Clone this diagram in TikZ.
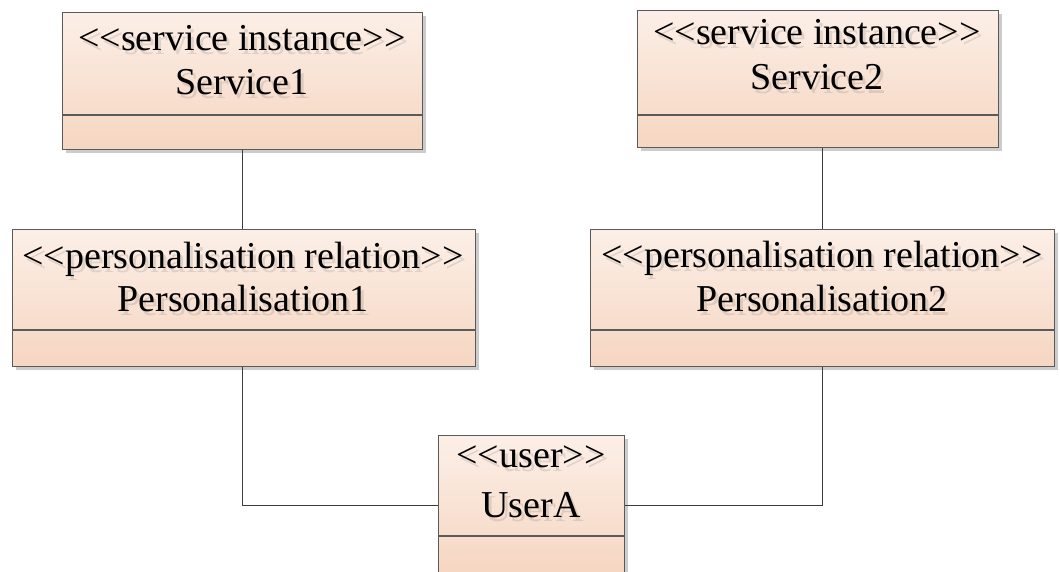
\documentclass[tikz,border=0pt]{standalone}
\usepackage{fontspec}
\setmainfont{Liberation Serif}[Ligatures=TeXOff]
\usetikzlibrary{shadows}
\definecolor{boxtop}{HTML}{FCEFE7}
\definecolor{boxbot}{HTML}{F5D6C1}
\definecolor{edgecol}{HTML}{5A5A5A}
\definecolor{linecol}{HTML}{3C3C3C}
\tikzset{
  umlbox/.style={draw=edgecol, line width=1.3pt, top color=boxtop, bottom color=boxbot,
    inner sep=0pt, anchor=north west,
    drop shadow={shadow xshift=3.5pt, shadow yshift=-3.5pt, fill=black!20, opacity=1}},
  divider/.style={draw=edgecol, line width=1.3pt},
  lbl/.style={font=\fontsize{38}{40}\selectfont, anchor=base, inner sep=0pt, text=black},
  ghost/.style={lbl, text=black, text opacity=0.1},
  conn/.style={draw=linecol, line width=1.6pt}
}
\begin{document}
\begin{tikzpicture}[x=1pt, y=-1pt]
\useasboundingbox (0,0) rectangle (1060,571);

% boxes
\node[umlbox, minimum width=360pt, minimum height=137pt] (s1) at (62,12) {};
\node[umlbox, minimum width=361pt, minimum height=137pt] (s2) at (637,10) {};
\node[umlbox, minimum width=463pt, minimum height=137pt] (p1) at (12,229) {};
\node[umlbox, minimum width=464pt, minimum height=137pt] (p2) at (590,229) {};
\node[umlbox, minimum width=186pt, minimum height=140pt] (u) at (438,435) {};

% dividers
\draw[divider] (s1.west |- 0,115) -- (s1.east |- 0,115);
\draw[divider] (s2.west |- 0,115) -- (s2.east |- 0,115);
\draw[divider] (p1.west |- 0,330) -- (p1.east |- 0,330);
\draw[divider] (p2.west |- 0,330) -- (p2.east |- 0,330);
\draw[divider] (u.west |- 0,536) -- (u.east |- 0,536);

% text shadows
\node[ghost] (s1a-g) at (245,54) {<<service instance>>};
\node[ghost] (s1b-g) at (245,98) {Service1};
\node[ghost] (s2a-g) at (820,48) {<<service instance>>};
\node[ghost] (s2b-g) at (820,93) {Service2};
\node[ghost] (p1a-g) at (246,272) {<<personalisation relation>>};
\node[ghost] (p1b-g) at (246,315) {Personalisation1};
\node[ghost] (p2a-g) at (825,271) {<<personalisation relation>>};
\node[ghost] (p2b-g) at (825,315) {Personalisation2};
\node[ghost] (ua-g) at (534,471) {<<user>>};
\node[ghost] (ub-g) at (534,521) {UserA};

% texts
\node[lbl] (s1a) at (242,50) {<<service instance>>};
\node[lbl] (s1b) at (242,94) {Service1};
\node[lbl] (s2a) at (817,44) {<<service instance>>};
\node[lbl] (s2b) at (817,89) {Service2};
\node[lbl] (p1a) at (243,268) {<<personalisation relation>>};
\node[lbl] (p1b) at (243,311) {Personalisation1};
\node[lbl] (p2a) at (822,267) {<<personalisation relation>>};
\node[lbl] (p2b) at (822,311) {Personalisation2};
\node[lbl] (ua) at (531,467) {<<user>>};
\node[lbl] (ub) at (531,517) {UserA};

% connectors
\draw[conn] (s1.south) -- (s1.south |- p1.north);
\draw[conn] (p2.north |- s2.south) -- (p2.north);
\draw[conn] (p1.south -| s1.south) |- (u.west);
\draw[conn] (u.east) -| (p2.south);
\end{tikzpicture}
\end{document}
